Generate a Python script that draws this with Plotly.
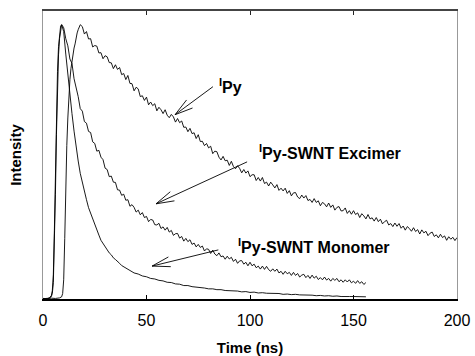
import plotly.graph_objects as go

# ---------------- fluorescence decay traces ----------------
# IPy: rising edge (explicit times) then 1 ns sampling from 19 to 200 ns
ipy_rise_t = [0, 2, 4, 6, 8, 9, 9.5, 10, 10.5, 11, 11.5, 12, 12.5, 13, 13.5,
              14, 14.5, 15, 15.5, 16, 16.5, 17, 17.5, 18]
ipy_rise_i = [0.002, 0.001, 0.003, 0.002, 0.004, 0.008, 0.02, 0.07, 0.22, 0.42,
              0.56, 0.66, 0.74, 0.80, 0.84, 0.868, 0.89, 0.915, 0.93, 0.955,
              0.97, 0.982, 0.99, 1.0]
ipy_decay_t = list(range(19, 201))
ipy_decay_i = [
    0.993, 0.966, 0.975, 0.948, 0.949, 0.919, 0.924, 0.922, 0.897, 0.898,  # 19-28
    0.876, 0.887, 0.883, 0.862, 0.861, 0.840, 0.854, 0.837, 0.844, 0.818,  # 29-38
    0.822, 0.800, 0.815, 0.786, 0.785, 0.759, 0.772, 0.766, 0.738, 0.741,  # 39-48
    0.724, 0.736, 0.708, 0.718, 0.705, 0.712, 0.686, 0.699, 0.690, 0.676,  # 49-58
    0.690, 0.670, 0.661, 0.673, 0.664, 0.645, 0.658, 0.643, 0.649, 0.626,  # 59-68
    0.627, 0.610, 0.622, 0.603, 0.606, 0.585, 0.599, 0.574, 0.575, 0.559,  # 69-78
    0.567, 0.551, 0.557, 0.530, 0.539, 0.537, 0.517, 0.507, 0.520, 0.504,  # 79-88
    0.506, 0.487, 0.502, 0.483, 0.475, 0.486, 0.476, 0.460, 0.472, 0.459,  # 89-98
    0.467, 0.446, 0.453, 0.453, 0.432, 0.443, 0.430, 0.443, 0.421, 0.426,  # 99-108
    0.412, 0.426, 0.416, 0.405, 0.417, 0.396, 0.404, 0.394, 0.404, 0.385,  # 109-118
    0.395, 0.376, 0.387, 0.388, 0.372, 0.366, 0.379, 0.368, 0.377, 0.359,  # 119-128
    0.363, 0.352, 0.366, 0.352, 0.358, 0.340, 0.352, 0.347, 0.336, 0.350,  # 129-138
    0.334, 0.343, 0.324, 0.334, 0.337, 0.321, 0.322, 0.332, 0.312, 0.322,  # 139-148
    0.309, 0.322, 0.308, 0.314, 0.297, 0.311, 0.303, 0.292, 0.308, 0.292,  # 149-158
    0.296, 0.284, 0.297, 0.282, 0.291, 0.274, 0.282, 0.287, 0.270, 0.275,  # 159-168
    0.264, 0.277, 0.265, 0.275, 0.258, 0.266, 0.251, 0.264, 0.257, 0.247,  # 169-178
    0.260, 0.246, 0.253, 0.237, 0.252, 0.241, 0.247, 0.231, 0.240, 0.244,  # 179-188
    0.228, 0.234, 0.223, 0.236, 0.224, 0.230, 0.214, 0.227, 0.218, 0.225,  # 189-198
    0.213, 0.224,                                                          # 199-200
]

# IPy-SWNT excimer: rising edge then 1 ns sampling from 10 to 156 ns
exc_rise_t = [0, 2, 3, 4, 4.5, 5, 5.5, 6, 6.5, 7, 7.5, 8, 8.5, 9, 9.5]
exc_rise_i = [0.001, 0.002, 0.003, 0.008, 0.02, 0.06, 0.18, 0.38, 0.60, 0.78,
              0.89, 0.95, 0.985, 1.0, 0.995]
exc_decay_t = list(range(10, 157))
exc_decay_i = [
    0.989, 0.949, 0.923, 0.875, 0.859, 0.803, 0.773, 0.738, 0.694, 0.685,  # 10-19
    0.647, 0.641, 0.611, 0.607, 0.573, 0.567, 0.539, 0.542, 0.517, 0.508,  # 20-29
    0.477, 0.472, 0.446, 0.448, 0.426, 0.425, 0.398, 0.397, 0.378, 0.382,  # 30-39
    0.360, 0.362, 0.338, 0.344, 0.334, 0.317, 0.324, 0.307, 0.315, 0.297,  # 40-49
    0.301, 0.282, 0.290, 0.288, 0.271, 0.270, 0.276, 0.257, 0.263, 0.251,  # 50-59
    0.261, 0.244, 0.250, 0.232, 0.238, 0.239, 0.222, 0.228, 0.211, 0.221,  # 60-69
    0.209, 0.216, 0.199, 0.204, 0.190, 0.199, 0.188, 0.193, 0.175, 0.183,  # 70-79
    0.181, 0.166, 0.178, 0.164, 0.158, 0.168, 0.154, 0.157, 0.145, 0.156,  # 80-89
    0.146, 0.152, 0.137, 0.145, 0.130, 0.139, 0.140, 0.127, 0.134, 0.121,  # 90-99
    0.134, 0.121, 0.127, 0.114, 0.120, 0.109, 0.120, 0.108, 0.119, 0.107,  # 100-109
    0.101, 0.110, 0.101, 0.109, 0.095, 0.101, 0.090, 0.101, 0.092, 0.097,  # 110-119
    0.086, 0.097, 0.086, 0.093, 0.080, 0.087, 0.090, 0.078, 0.086, 0.075,  # 120-129
    0.087, 0.076, 0.083, 0.071, 0.078, 0.070, 0.080, 0.069, 0.075, 0.065,  # 130-139
    0.075, 0.068, 0.075, 0.063, 0.070, 0.061, 0.070, 0.062, 0.070, 0.059,  # 140-149
    0.065, 0.057, 0.067, 0.057, 0.063, 0.053, 0.060,                       # 150-156
]

# IPy-SWNT monomer: rising edge, 1 ns to 40 ns, then 2 ns to 156 ns
mon_rise_t = [0, 2, 3, 4, 4.5, 5, 5.5, 6, 6.5, 7, 7.5, 8, 8.5, 9, 9.5]
mon_rise_i = [0.002, 0.001, 0.004, 0.012, 0.03, 0.09, 0.25, 0.47, 0.68, 0.83,
              0.92, 0.97, 0.995, 1.0, 0.99]
mon_decay_t = list(range(10, 41)) + list(range(42, 157, 2))
mon_decay_i = [
    0.975, 0.893, 0.812, 0.742, 0.676, 0.612, 0.548, 0.503, 0.458, 0.424,  # 10-19
    0.387, 0.362, 0.333, 0.312, 0.288, 0.272, 0.248, 0.233, 0.214, 0.202,  # 20-29
    0.188, 0.181, 0.168, 0.161, 0.150, 0.144, 0.135, 0.130, 0.122, 0.118,  # 30-39
    0.111,                                                                 # 40
    0.104, 0.095, 0.091, 0.084, 0.081, 0.075, 0.073, 0.068, 0.066, 0.061,  # 42-60
    0.060, 0.055, 0.054, 0.049, 0.049, 0.045, 0.044, 0.041, 0.040, 0.037,  # 62-80
    0.037, 0.034, 0.034, 0.031, 0.031, 0.029, 0.029, 0.026, 0.027, 0.024,  # 82-100
    0.025, 0.022, 0.023, 0.021, 0.021, 0.019, 0.020, 0.017, 0.018, 0.016,  # 102-120
    0.017, 0.015, 0.015, 0.013, 0.014, 0.012, 0.013, 0.011, 0.012, 0.010,  # 122-140
    0.011, 0.009, 0.010, 0.009, 0.009, 0.008, 0.009, 0.008,                # 142-156
]

x_ticks = [0, 50, 100, 150, 200]
x_range = [0, 200]
y_range = [0, 1.05]

# label text, label anchor (t, I), arrow tail (t, I), arrow tip (t, I)
labels = [
    ("<sup>I</sup>Py", (84.0, 0.775), (82.1, 0.774), (63.8, 0.672)),
    ("<sup>I</sup>Py-SWNT Excimer", (103.5, 0.536), (98.6, 0.50), (54.6, 0.347)),
    ("<sup>I</sup>Py-SWNT Monomer", (93.3, 0.195), (84.7, 0.179), (52.7, 0.120)),
]

# ---------------- figure ----------------
W, H = 475, 356
M = dict(l=43, r=18, t=11, b=57)
FONT = "Liberation Sans, Arial, sans-serif"

fig = go.Figure()
line = dict(color="black", width=0.9)
fig.add_trace(go.Scatter(x=ipy_rise_t + ipy_decay_t, y=ipy_rise_i + ipy_decay_i,
                         mode="lines", line=line, hoverinfo="skip"))
fig.add_trace(go.Scatter(x=exc_rise_t + exc_decay_t, y=exc_rise_i + exc_decay_i,
                         mode="lines", line=line, hoverinfo="skip"))
fig.add_trace(go.Scatter(x=mon_rise_t + mon_decay_t, y=mon_rise_i + mon_decay_i,
                         mode="lines", line=line, hoverinfo="skip"))
# empty trace so the top tick axis is rendered
fig.add_trace(go.Scatter(x=[None], y=[None], xaxis="x2", showlegend=False,
                         hoverinfo="skip"))

# open pointer arrows: shaft plus two narrow barbs, built in pixel space
pw = W - M["l"] - M["r"]
ph = H - M["t"] - M["b"]
sx = pw / (x_range[1] - x_range[0])
sy = ph / (y_range[1] - y_range[0])


def to_px(t, v):
    return t * sx, -v * sy


def to_data(px, py):
    return px / sx, -py / sy


BARB_LEN, BARB_HALF = 18.0, 5.0
for text, anchor, tail, tip in labels:
    fig.add_shape(type="line", x0=tail[0], y0=tail[1], x1=tip[0], y1=tip[1],
                  line=dict(color="black", width=0.9))
    tx, ty = to_px(*tip)
    ax, ay = to_px(*tail)
    dx, dy = ax - tx, ay - ty
    n = (dx * dx + dy * dy) ** 0.5
    ux, uy = dx / n, dy / n
    for s in (1, -1):
        bx = tx + ux * BARB_LEN + s * (-uy) * BARB_HALF
        by = ty + uy * BARB_LEN + s * ux * BARB_HALF
        bt, bv = to_data(bx, by)
        fig.add_shape(type="line", x0=tip[0], y0=tip[1], x1=bt, y1=bv,
                      line=dict(color="black", width=0.9))
    fig.add_annotation(x=anchor[0], y=anchor[1], text=text, showarrow=False,
                       xanchor="left", yanchor="middle",
                       font=dict(family=FONT, size=16, color="black",
                                 weight="bold"))

fig.update_layout(
    width=W, height=H, margin=M,
    paper_bgcolor="white", plot_bgcolor="white",
    showlegend=False,
    font=dict(family=FONT, color="black"),
    xaxis=dict(range=x_range, tickvals=x_ticks, ticks="inside", ticklen=4,
               tickcolor="black", tickwidth=1, ticklabelstandoff=6,
               showline=True, linecolor="black", linewidth=2,
               showgrid=False, zeroline=False, automargin=False,
               tickfont=dict(family=FONT, size=16, color="black"),
               title=dict(text="Time (ns)", standoff=15,
                          font=dict(family=FONT, size=15, color="black",
                                    weight="bold"))),
    xaxis2=dict(range=x_range, overlaying="x", side="top",
                tickvals=[50, 100, 150], ticks="inside", ticklen=4,
                tickcolor="#222", showticklabels=False,
                showline=True, linecolor="#444", linewidth=1.5,
                showgrid=False, zeroline=False),
    yaxis=dict(range=y_range, showticklabels=False, ticks="",
               showline=True, linecolor="#999", linewidth=1, mirror=True,
               showgrid=False, zeroline=False, automargin=False,
               title=dict(text="Intensity", standoff=16,
                          font=dict(family=FONT, size=15, color="black",
                                    weight="bold"))),
)

fig.write_html("out.html")
